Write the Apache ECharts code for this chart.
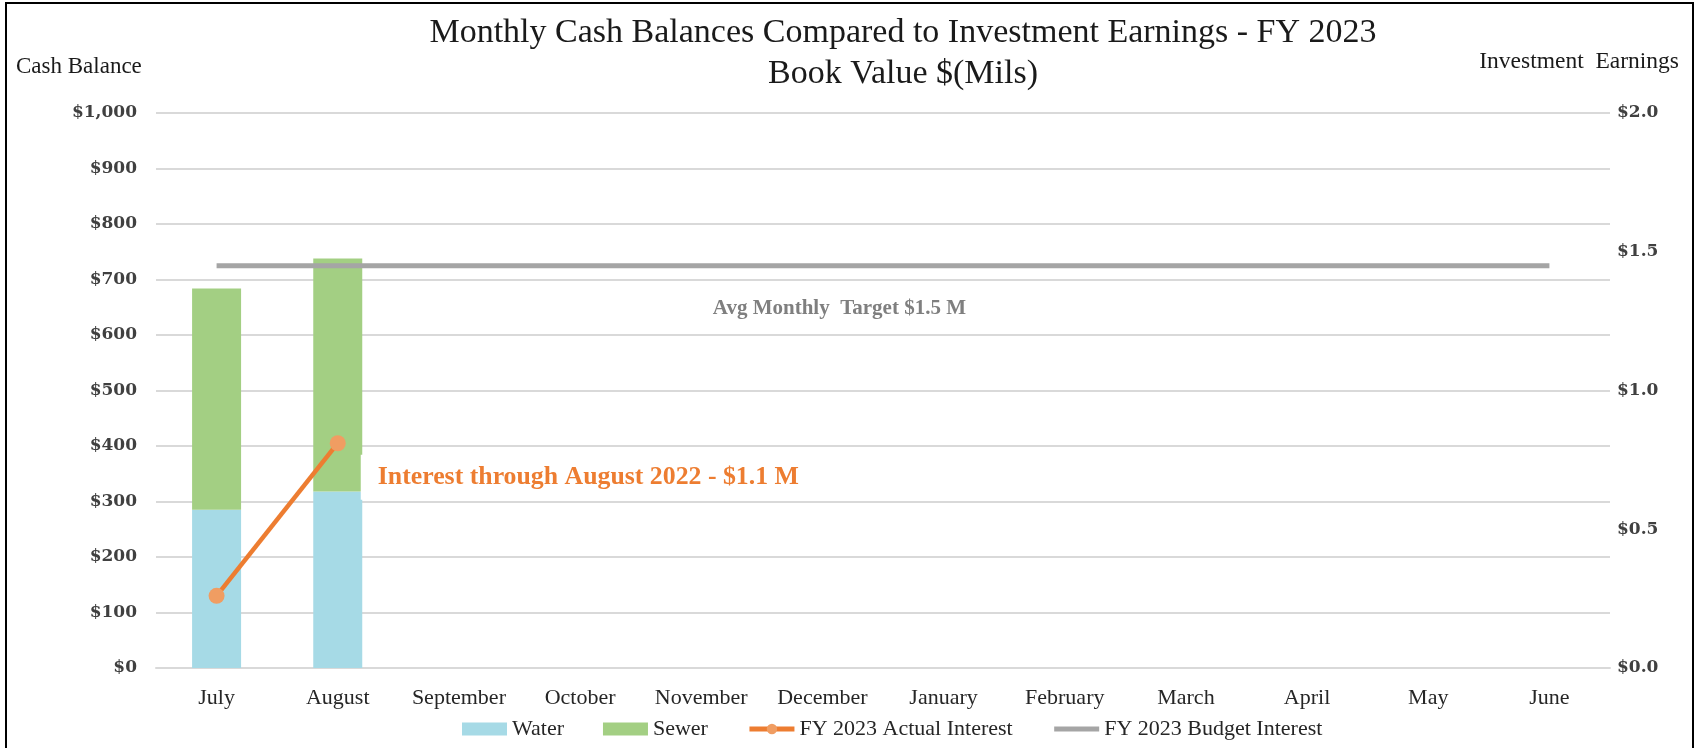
<!DOCTYPE html>
<html>
<head>
<meta charset="utf-8">
<script src="https://cdn.jsdelivr.net/npm/echarts@6.0.0/dist/echarts.min.js"></script>
<style>
  html, body { margin: 0; padding: 0; background: #fff; }
  #chart { width: 1698px; height: 748px; }
</style>
</head>
<body>
<div id="chart"></div>
<script>
// months of the fiscal year
const months = ['July', 'August', 'September', 'October', 'November', 'December',
  'January', 'February', 'March', 'April', 'May', 'June'];

// cash balances, $ millions (only July and August reported so far)
const water = [285, 318, null, null, null, null, null, null, null, null, null, null];
const sewer = [399, 420, null, null, null, null, null, null, null, null, null, null];

// investment earnings, $ millions
const actualInterest = [0.26, 0.81, null, null, null, null, null, null, null, null, null, null];
const budgetInterest = [1.45, 1.45, 1.45, 1.45, 1.45, 1.45, 1.45, 1.45, 1.45, 1.45, 1.45, 1.45];

const serif = 'Liberation Serif';
const tickFont = 'DejaVu Serif';

const chart = echarts.init(document.getElementById('chart'));

// annotation on the budget line (sits under the December point)
const budgetData = budgetInterest.map((v, i) => i === 5 ? {
  value: v,
  label: {
    show: true,
    position: 'bottom',
    distance: 32,
    offset: [17, 0],
    formatter: 'Avg Monthly  Target $1.5 M',
    fontFamily: serif,
    fontWeight: 'bold',
    fontSize: 21,
    color: '#7f7f7f'
  }
} : v);

// annotation on the last actual point
const actualData = actualInterest.map((v, i) => i === 1 ? {
  value: v,
  label: {
    show: true,
    position: 'right',
    distance: 15,
    offset: [0, 34],
    formatter: 'Interest through August 2022 - $1.1 M',
    fontFamily: serif,
    fontWeight: 'bold',
    fontSize: 25.8,
    color: '#ed7d31',
    backgroundColor: '#fff',
    padding: [10, 6, 9, 17]
  }
} : v);

const option = {
  animation: false,
  backgroundColor: '#fff',
  title: [
    {
      text: 'Monthly Cash Balances Compared to Investment Earnings - FY 2023\nBook Value $(Mils)',
      left: 903,
      top: 13,
      textAlign: 'center',
      padding: 0,
      textStyle: { fontFamily: serif, fontWeight: 'normal', fontSize: 34, lineHeight: 41, color: '#1a1a1a' }
    },
    {
      text: 'Cash Balance',
      left: 16,
      top: 54,
      padding: 0,
      textStyle: { fontFamily: serif, fontWeight: 'normal', fontSize: 23, lineHeight: 26, color: '#1a1a1a' }
    },
    {
      text: 'Investment  Earnings',
      right: 19,
      top: 49,
      padding: 0,
      textStyle: { fontFamily: serif, fontWeight: 'normal', fontSize: 23.5, lineHeight: 26, color: '#1a1a1a' }
    }
  ],
  graphic: [{
    type: 'rect',
    silent: true,
    shape: { x: 6, y: 3, width: 1687, height: 760 },
    style: { fill: null, stroke: '#000', lineWidth: 2 }
  }],
  legend: {
    left: 457,
    top: 713,
    itemWidth: 45,
    itemHeight: 13,
    itemGap: 39,
    textStyle: { fontFamily: serif, fontSize: 22, color: '#262626' },
    data: [
      { name: 'Water', icon: 'rect' },
      { name: 'Sewer', icon: 'rect' },
      { name: 'FY 2023 Actual Interest', lineStyle: { width: 5 } },
      { name: 'FY 2023 Budget Interest', lineStyle: { width: 5 }, itemStyle: { opacity: 0 } }
    ]
  },
  grid: { left: 156, right: 88, top: 113, bottom: 80 },
  xAxis: {
    type: 'category',
    data: months,
    axisTick: { show: false },
    axisLine: { lineStyle: { color: '#d9d9d9', width: 2 } },
    axisLabel: { interval: 0, fontFamily: serif, fontSize: 22, color: '#262626', margin: 19 }
  },
  yAxis: [
    {
      type: 'value',
      min: 0,
      max: 1000,
      interval: 100,
      axisLine: { show: false },
      axisTick: { show: false },
      splitLine: { lineStyle: { color: '#d9d9d9', width: 2 } },
      axisLabel: {
        margin: 19,
        fontFamily: tickFont,
        fontWeight: 'bold',
        fontSize: 17,
        color: '#404040',
        formatter: v => '$' + v.toLocaleString('en-US')
      }
    },
    {
      type: 'value',
      min: 0,
      max: 2,
      interval: 0.5,
      axisLine: { show: false },
      axisTick: { show: false },
      splitLine: { show: false },
      axisLabel: {
        margin: 7,
        fontFamily: tickFont,
        fontWeight: 'bold',
        fontSize: 17,
        color: '#404040',
        formatter: v => '$' + v.toFixed(1)
      }
    }
  ],
  series: [
    {
      name: 'Water',
      type: 'bar',
      stack: 'cash',
      barWidth: 49,
      itemStyle: { color: '#a6dae6' },
      data: water
    },
    {
      name: 'Sewer',
      type: 'bar',
      stack: 'cash',
      barWidth: 49,
      itemStyle: { color: '#a3cf83' },
      data: sewer
    },
    {
      name: 'FY 2023 Budget Interest',
      type: 'line',
      yAxisIndex: 1,
      symbol: 'circle',
      symbolSize: 0,
      lineStyle: { color: '#a5a5a5', width: 5 },
      itemStyle: { color: '#a5a5a5' },
      data: budgetData
    },
    {
      name: 'FY 2023 Actual Interest',
      type: 'line',
      yAxisIndex: 1,
      symbol: 'circle',
      symbolSize: 16,
      z: 5,
      lineStyle: { color: '#ed7d31', width: 4.5 },
      itemStyle: { color: '#f09d62' },
      data: actualData
    }
  ]
};

chart.setOption(option);
window.addEventListener('resize', () => chart.resize());
</script>
</body>
</html>
